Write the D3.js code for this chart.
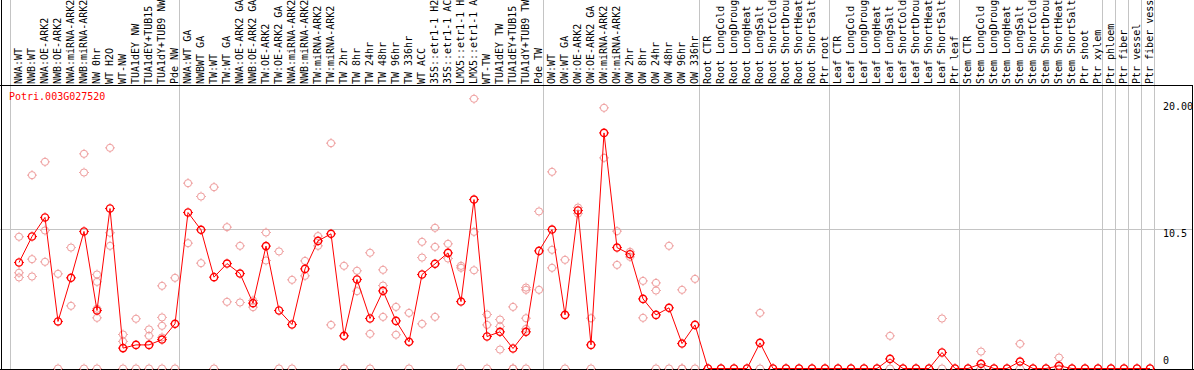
<!DOCTYPE html>
<html>
<head>
<meta charset="utf-8">
<script src="https://cdn.jsdelivr.net/npm/d3@7"></script>
<style>
  html, body { margin: 0; padding: 0; background: #fff; overflow: hidden; }
  svg { display: block; }
  text { font-family: "DejaVu Sans Mono", "Liberation Mono", monospace; font-size: 10px; }
</style>
</head>
<body>
<div id="host"><svg></svg></div>
<script>
const WIDTH = 1194;
const HEIGHT = 370;
const X0 = 11;
const STEP = 13;
const HEADER_Y = 85;
const BOTTOM_Y = 369;

const RED = "#ff0000";
const PINK = "#ee9a9a";
const GRID = "#c4c4c4";

const geneId = "Potri.003G027520";

const samples = [
  "NWA:WT", "NWB:WT", "NWA:OE-ARK2", "NWB:OE-ARK2", "NWA:miRNA-ARK2", "NWB:miRNA-ARK2",
  "NW 0hr", "WT H2O", "WT-NW", "TUA1dEY NW", "TUA1dEY+TUB15 NW", "TUA1dY+TUB9 NW", "Pde NW",
  "NWA:WT GA", "NWBWT GA", "TW:WT", "TW:WT GA", "NWA:OE-ARK2 GA", "NWB:OE-ARK2 GA",
  "TW:OE-ARK2", "TW:OE-ARK2 GA", "NWA:miRNA-ARK2 GA", "NWB:miRNA-ARK2 GA", "TW:miRNA-ARK2",
  "TW:miRNA-ARK2 GA", "TW 2hr", "TW 8hr", "TW 24hr", "TW 48hr", "TW 96hr", "TW 336hr",
  "WT ACC", "35S::etr1-1 H2O", "35S::etr1-1 ACC", "LMX5::etr1-1 H2O", "LMX5::etr1-1 ACC",
  "WT-TW", "TUA1dEY TW", "TUA1dEY+TUB15 TW", "TUA1dY+TUB9 TW", "Pde TW",
  "OW:WT", "OW:WT GA", "OW:OE-ARK2", "OW:OE-ARK2 GA", "OW:miRNA-ARK2", "OW:miRNA-ARK2 GA",
  "OW 2hr", "OW 8hr", "OW 24hr", "OW 48hr", "OW 96hr", "OW 336hr",
  "Root CTR", "Root LongCold", "Root LongDrought", "Root LongHeat", "Root LongSalt",
  "Root ShortCold", "Root ShortDrought", "Root ShortHeat", "Root ShortSalt", "Ptr root",
  "Leaf CTR", "Leaf LongCold", "Leaf LongDrought", "Leaf LongHeat", "Leaf LongSalt",
  "Leaf ShortCold", "Leaf ShortDrought", "Leaf ShortHeat", "Leaf ShortSalt", "Ptr leaf",
  "Stem CTR", "Stem LongCold", "Stem LongDrought", "Stem LongHeat", "Stem LongSalt",
  "Stem ShortCold", "Stem ShortDrought", "Stem ShortHeat", "Stem ShortSalt", "Ptr shoot",
  "Ptr xylem", "Ptr phloem", "Ptr fiber", "Ptr vessel", "Ptr fiber vessel"
];

const groupSizes = [13, 28, 12, 10, 10, 11, 1, 1, 1, 1];

const means = [
  7.95, 9.9, 11.33, 3.53, 6.8, 10.28, 4.35, 12.0, 1.53, 1.77, 1.77, 2.17, 3.35,
  11.7, 10.4, 6.85, 7.87, 7.12, 4.9, 9.18, 4.35, 3.3, 7.47, 9.57, 10.1, 2.45, 6.68,
  3.75, 5.82, 3.57, 2.0, 7.05, 7.85, 8.67, 5.02, 12.67, 2.4, 2.75, 1.5, 2.75, 8.82,
  10.42, 4.02, 11.85, 1.77, 17.67, 9.07, 8.57, 5.22, 4.02, 4.55, 1.87, 3.27,
  0, 0, 0, 0, 1.92, 0, 0, 0, 0, 0,
  0, 0, 0, 0, 0.72, 0, 0, 0, 1.2, 0,
  0, 0.35, 0, 0, 0.52, 0, 0, 0.2, 0, 0, 0,
  0, 0, 0, 0
];

const reps = [
  [9.88, 7.18, 6.83], [14.5, 8.2, 6.9], [15.5, 10.35, 8.0], [7.1, 0], [9.07, 4.7],
  [16.1, 14.7, 0], [7.05, 6.5, 4.48, 3.8, 0], [16.55, 10.18, 9.2], [2.55, 2.03, 0],
  [3.73, 0], [2.93, 2.45, 0], [6.2, 3.83, 3.2, 2.33, 0], [6.8, 0],
  [13.9, 9.4], [12.9, 7.9], [13.6, 0], [10.6, 5.0], [9.2, 4.95], [5.1, 4.6],
  [10.2, 8.1], [8.78, 0], [6.65, 0], [8.07, 6.95], [9.93, 9.2], [16.9, 3.27],
  [7.7, 0, 0], [7.33, 5.8], [8.68, 2.6, 0], [7.4, 6.22, 3.87], [4.62, 2.53], [4.17, 0],
  [9.5, 8.32, 3.35], [10.55, 9.12, 3.87], [9.35, 8.25], [7.7, 7.55, 0],
  [20.23, 10.25, 7.37], [4.05, 3.27, 0], [3.67, 3.15, 1.42], [4.62, 0, 0],
  [6.07, 5.9, 3.77, 2.97, 0], [11.78, 5.9],
  [14.75, 8.9, 7.55], [8.15, 0], [12.07, 11.62], [3.77, 0], [19.55, 15.8],
  [10.3, 7.77], [8.75, 8.37], [6.57, 3.8], [6.42, 5.85, 0], [9.2, 0], [5.9, 0, 0], [6.72, 0],
  [0], [0], [0], [0], [4.17, 0], [0], [0], [0], [0], [0],
  [0], [0], [0], [0], [2.45, 0], [0], [0], [0], [3.75, 0], [0],
  [0], [1.27, 0], [0], [0], [1.85, 0], [0], [0], [0.82, 0], [0], [0], [0],
  [0], [0], [0], [0]
];

const yTicks = [0, 10.5, 20];
const yTickLabels = ["0", "10.5", "20.00"];

const svg = d3.select("#host svg").attr("width", WIDTH).attr("height", HEIGHT);

const x = d3.scaleBand().domain(samples).range([X0, X0 + STEP * samples.length]);
const y = d3.scaleLinear().domain([0, 21]).range([368.5, 88.5]);
const px = (s) => x(s) + 8;

// group separators (band starts of each group, plus the end)
const seps = [0];
groupSizes.reduce((acc, n) => {
  seps.push(acc + n);
  return acc + n;
}, 0);
const sepX = seps.map((i) =>
  i < samples.length ? x(samples[i]) : x(samples[samples.length - 1]) + x.step()
);

svg
  .append("g")
  .selectAll("line")
  .data(sepX)
  .join("line")
  .attr("x1", (d) => Math.round(d) - 0.5)
  .attr("x2", (d) => Math.round(d) - 0.5)
  .attr("y1", 0)
  .attr("y2", BOTTOM_Y)
  .attr("stroke", GRID)
  .attr("stroke-width", 1)
  .attr("shape-rendering", "crispEdges");

svg
  .append("line")
  .attr("x1", 0)
  .attr("x2", WIDTH - 1)
  .attr("y1", Math.round(y(10.5)) + 0.5)
  .attr("y2", Math.round(y(10.5)) + 0.5)
  .attr("stroke", GRID)
  .attr("shape-rendering", "crispEdges");

// frame
const frame = svg.append("g").attr("stroke", "#000").attr("shape-rendering", "crispEdges");
frame.append("line").attr("x1", 1.5).attr("x2", 1.5).attr("y1", 0).attr("y2", HEIGHT);
frame.append("line").attr("x1", 0).attr("x2", WIDTH - 1).attr("y1", HEADER_Y + 0.5).attr("y2", HEADER_Y + 0.5);
frame.append("line").attr("x1", WIDTH - 1.5).attr("x2", WIDTH - 1.5).attr("y1", HEADER_Y).attr("y2", HEIGHT);
frame.append("line").attr("x1", 0).attr("x2", WIDTH).attr("y1", BOTTOM_Y + 0.5).attr("y2", BOTTOM_Y + 0.5);

// header labels
svg
  .append("g")
  .selectAll("text")
  .data(samples)
  .join("text")
  .attr("transform", (d) => `translate(${px(d) + 3},${HEADER_Y - 1}) rotate(-90)`)
  .attr("fill", "#000")
  .text((d) => d);

// gene id
svg
  .append("text")
  .attr("x", 9)
  .attr("y", 100)
  .attr("fill", RED)
  .text(geneId);

// y tick labels
svg
  .append("g")
  .selectAll("text")
  .data(yTicks)
  .join("text")
  .attr("x", 1163)
  .attr("y", (d) => Math.min(y(d) + 8, 364))
  .attr("fill", "#000")
  .text((d, i) => yTickLabels[i]);

function marker(sel, color, width) {
  sel.append("circle").attr("r", 3.6).attr("fill", "none").attr("stroke", color).attr("stroke-width", width);
  sel
    .append("path")
    .attr("d", "M0,-4V-4.9M0,4V4.9M-4,0H-4.9M4,0H4.9")
    .attr("stroke", color)
    .attr("stroke-width", 1);
}

// replicate points
const repPoints = [];
reps.forEach((vals, i) => vals.forEach((v) => repPoints.push({ s: samples[i], v })));
svg
  .append("g")
  .selectAll("g")
  .data(repPoints)
  .join("g")
  .attr("transform", (d) => `translate(${px(d.s)},${y(d.v)})`)
  .call(marker, PINK, 1);

// mean line
svg
  .append("path")
  .datum(means)
  .attr("fill", "none")
  .attr("stroke", RED)
  .attr("stroke-width", 1)
  .attr("d", d3.line().x((d, i) => px(samples[i])).y((d) => y(d)));

svg
  .append("g")
  .selectAll("g")
  .data(means)
  .join("g")
  .attr("transform", (d, i) => `translate(${px(samples[i])},${y(d)})`)
  .call(marker, RED, 1.4);
</script>
</body>
</html>
